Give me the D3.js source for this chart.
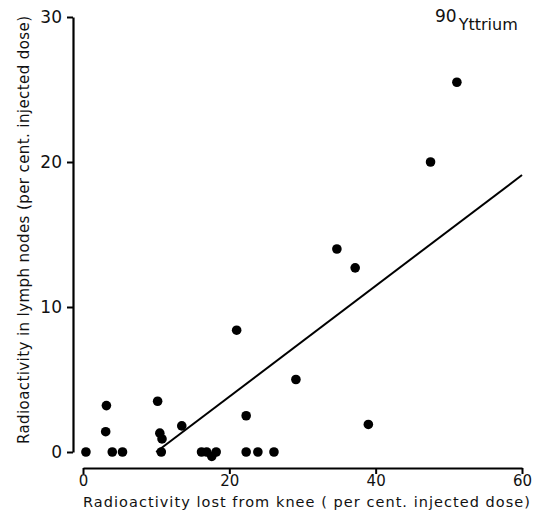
<!DOCTYPE html>
<html>
<head>
<meta charset="utf-8">
<script src="https://cdn.jsdelivr.net/npm/d3@7"></script>
<style>
  body { margin: 0; background: #fff; }
  svg { display: block; }
  text { font-family: "DejaVu Sans", sans-serif; fill: #111; }
</style>
</head>
<body>
<div id="chart"></div>
<script>
"use strict";

// Radioactivity lost from knee (%) vs radioactivity in lymph nodes (%)
var lostFromKnee = [0.4, 3.2, 3.1, 4.0, 5.4, 10.2, 10.5, 10.8, 10.7, 13.5,
  16.2, 16.9, 17.6, 18.2, 21.0, 22.3, 22.3, 23.9, 26.1, 29.1, 34.7, 37.2, 39.0, 47.5, 51.1];
var inLymphNodes = [0, 3.2, 1.4, 0, 0, 3.5, 1.3, 0.9, 0, 1.8,
  0, 0, -0.3, 0, 8.4, 2.5, 0, 0, 0, 5.0, 14.0, 12.7, 1.9, 20.0, 25.5];

// regression line end points
var fitX = [10, 60];
var fitY = [0, 19.1];

var xTicks = [0, 20, 40, 60];
var yTicks = [0, 10, 20, 30];

var width = 539, height = 522;

var svg = d3.select("#chart").append("svg")
  .attr("width", width)
  .attr("height", height);

var x = d3.scaleLinear().domain([0, 60]).range([83, 522]);
var y = d3.scaleLinear().domain([0, 30]).range([452, 17]);

// x axis sits a little below the zero line
svg.append("g")
  .attr("transform", "translate(0,468)")
  .call(d3.axisBottom(x).tickValues(xTicks).tickSize(6).tickSizeOuter(0).tickPadding(1))
  .call(function(g) {
    g.select(".domain").attr("stroke-width", 2.2);
    g.selectAll(".tick line").attr("stroke-width", 2);
    g.selectAll(".tick text").style("font-size", "15px").attr("fill", "#111");
  });

svg.append("g")
  .attr("transform", "translate(73,0)")
  .call(d3.axisLeft(y).tickValues(yTicks).tickSize(6).tickSizeOuter(0).tickPadding(5))
  .call(function(g) {
    g.select(".domain").attr("stroke-width", 2.2);
    g.selectAll(".tick line").attr("stroke-width", 2);
    g.selectAll(".tick text").style("font-size", "17px").attr("fill", "#111");
  });

var line = d3.line()
  .x(function(d) { return x(d[0]); })
  .y(function(d) { return y(d[1]); });

svg.append("path")
  .datum(d3.zip(fitX, fitY))
  .attr("d", line)
  .attr("fill", "none")
  .attr("stroke", "#000")
  .attr("stroke-width", 2);

svg.selectAll("circle")
  .data(d3.zip(lostFromKnee, inLymphNodes))
  .enter()
  .append("circle")
  .attr("r", 4.8)
  .attr("cx", function(d) { return x(d[0]); })
  .attr("cy", function(d) { return y(d[1]); })
  .attr("fill", "#000");

svg.append("text")
  .attr("x", 83)
  .attr("y", 507)
  .attr("textLength", 447)
  .attr("lengthAdjust", "spacing")
  .style("font-size", "14.5px")
  .text("Radioactivity lost  from knee ( per cent. injected dose)");

svg.append("text")
  .attr("transform", "translate(29,444) rotate(-90)")
  .attr("textLength", 428)
  .attr("lengthAdjust", "spacing")
  .style("font-size", "15px")
  .text("Radioactivity in lymph nodes (per cent. injected dose)");

var label = svg.append("text")
  .attr("x", 435)
  .attr("y", 30)
  .style("font-size", "16px");
label.append("tspan").attr("dy", -8).style("font-size", "17px").text("90");
label.append("tspan").attr("dx", 2).attr("dy", 8).text("Yttrium");
</script>
</body>
</html>
